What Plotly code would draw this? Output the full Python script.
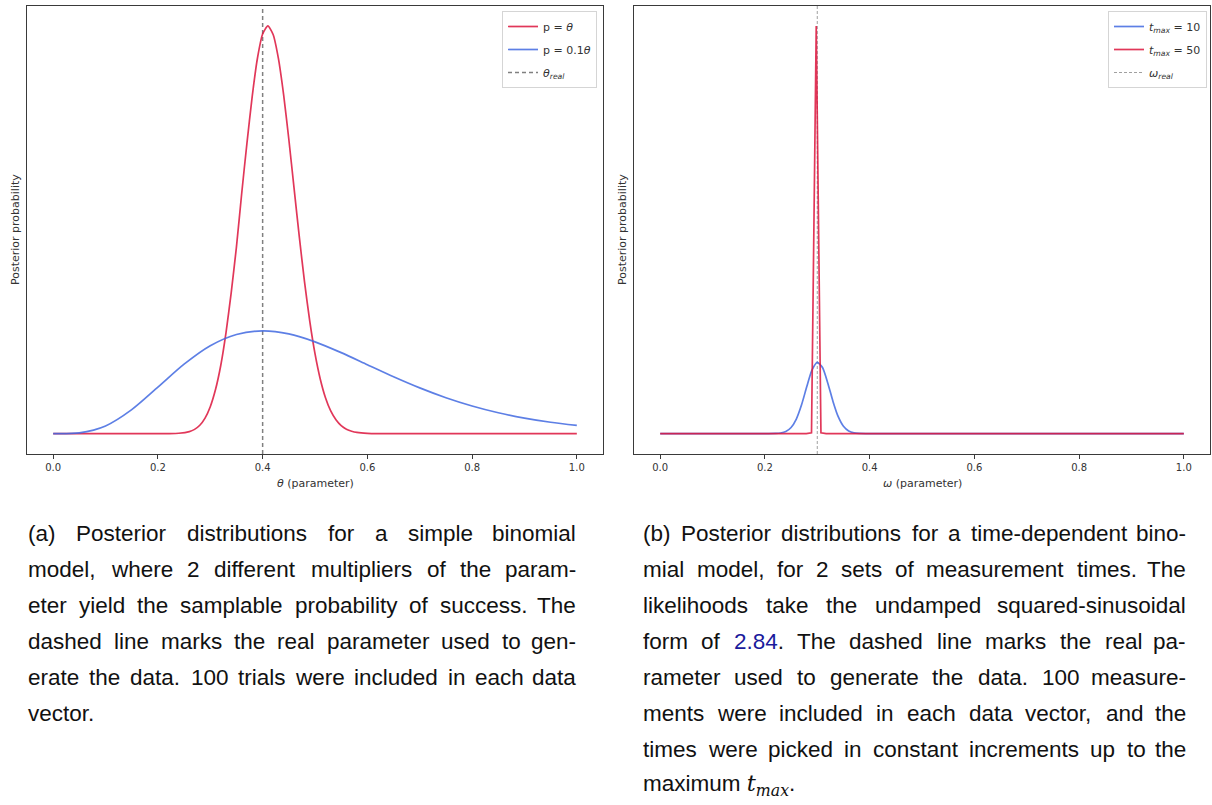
import re
import plotly.graph_objects as go

# ---------------- panel (a): simple binomial model ----------------
theta_real = 0.4
theta_red = [0.0, 0.05, 0.10, 0.15, 0.20, 0.22, 0.24, 0.26, 0.27, 0.28, 0.29,
             0.30, 0.31, 0.32, 0.33, 0.34, 0.35, 0.36, 0.37, 0.38, 0.39,
             0.40, 0.41, 0.42, 0.43, 0.44, 0.45, 0.46, 0.47, 0.48, 0.49,
             0.50, 0.51, 0.52, 0.53, 0.54, 0.55, 0.56, 0.57, 0.58,
             0.60, 0.62, 0.70, 0.80, 0.90, 1.0]
post_red_a = [0, 0, 0, 0, 0.00001, 0.0001, 0.0009, 0.0049, 0.0104, 0.0205, 0.038,
              0.066, 0.108, 0.167, 0.247, 0.346, 0.458, 0.589, 0.712, 0.826, 0.920,
              0.980, 1.0, 0.979, 0.921, 0.832, 0.722, 0.602, 0.483, 0.372, 0.276,
              0.196, 0.134, 0.088, 0.0555, 0.034, 0.0195, 0.0108, 0.0058, 0.0029,
              0.0007, 0.0001, 0, 0, 0, 0]

theta_blue = [0.0, 0.05, 0.10, 0.15, 0.20, 0.25, 0.30, 0.35, 0.40, 0.45, 0.50,
              0.55, 0.60, 0.65, 0.70, 0.75, 0.80, 0.85, 0.90, 0.95, 1.0]
post_blue_a = [0, 0.0019, 0.0189, 0.0588, 0.1140, 0.1703, 0.2156, 0.2432, 0.252,
               0.2445, 0.2251, 0.1986, 0.1691, 0.1395, 0.1122, 0.0881, 0.0678,
               0.0512, 0.0380, 0.0278, 0.0200]

# ---------------- panel (b): time-dependent binomial model ----------------
omega_real = 0.3
omega_blue = [0.0, 0.20, 0.22, 0.23, 0.24, 0.25, 0.26, 0.27, 0.28, 0.29, 0.30,
              0.31, 0.32, 0.33, 0.34, 0.35, 0.36, 0.37, 0.38, 0.40, 1.0]
post_blue_b = [0, 0, 0.0004, 0.0015, 0.0052, 0.0150, 0.0357, 0.0706, 0.1153,
               0.1561, 0.1748, 0.1621, 0.1244, 0.0790, 0.0415, 0.0181, 0.0065,
               0.0019, 0.0005, 0, 0]
omega_red = [0.0, 0.279, 0.289, 0.298, 0.307, 0.317, 1.0]
post_red_b = [0, 0, 0.002, 1.0, 0.002, 0, 0]

x_ticks = [0.0, 0.2, 0.4, 0.6, 0.8, 1.0]
x_tick_labels = ["0.0", "0.2", "0.4", "0.6", "0.8", "1.0"]

caption_a = [
    "(a) Posterior distributions for a simple binomial",
    "model, where 2 different multipliers of the param-",
    "eter yield the samplable probability of success. The",
    "dashed line marks the real parameter used to gen-",
    "erate the data. 100 trials were included in each data",
    "vector.",
]
caption_b = [
    "(b) Posterior distributions for a time-dependent bino-",
    "mial model, for 2 sets of measurement times. The",
    "likelihoods take the undamped squared-sinusoidal",
    "form of <span style='color:#1a1a9c'>2.84</span>. The dashed line marks the real pa-",
    "rameter used to generate the data. 100 measure-",
    "ments were included in each data vector, and the",
    "times were picked in constant increments up to the",
    "maximum <span style='font-family:\"DejaVu Serif\"'><i>t</i><sub><i>max</i></sub></span>.",
]

RED = "rgba(220,20,60,0.85)"
BLUE = "rgba(65,105,225,0.85)"
W, H = 1212, 805

fig = go.Figure()

# panel (a)
fig.add_trace(go.Scatter(x=theta_red, y=post_red_a, mode="lines", name="p = <i>θ</i>",
                         line=dict(color=RED, width=1.7, shape="spline", smoothing=0.6),
                         xaxis="x", yaxis="y", legend="legend", legendgroup="a1"))
fig.add_trace(go.Scatter(x=theta_blue, y=post_blue_a, mode="lines", name="p = 0.1<i>θ</i>",
                         line=dict(color=BLUE, width=1.7, shape="spline", smoothing=0.8),
                         xaxis="x", yaxis="y", legend="legend", legendgroup="a2"))
fig.add_trace(go.Scatter(x=[None], y=[None], mode="lines",
                         name="<i>θ</i><sub><i>real</i></sub>",
                         line=dict(color="#808080", width=1.5, dash="4px,3px"),
                         xaxis="x", yaxis="y", legend="legend", legendgroup="a3"))

# panel (b)
fig.add_trace(go.Scatter(x=omega_blue, y=post_blue_b, mode="lines",
                         name="<i>t</i><sub><i>max</i></sub> = 10",
                         line=dict(color=BLUE, width=1.7, shape="spline", smoothing=0.6),
                         xaxis="x2", yaxis="y2", legend="legend2", legendgroup="b1"))
fig.add_trace(go.Scatter(x=omega_red, y=post_red_b, mode="lines",
                         name="<i>t</i><sub><i>max</i></sub> = 50",
                         line=dict(color=RED, width=1.7),
                         xaxis="x2", yaxis="y2", legend="legend2", legendgroup="b2"))
fig.add_trace(go.Scatter(x=[None], y=[None], mode="lines",
                         name="<i>ω</i><sub><i>real</i></sub>",
                         line=dict(color="#a0a0a0", width=1, dash="3px,2px"),
                         xaxis="x2", yaxis="y2", legend="legend2", legendgroup="b3"))

# vertical markers for the true parameter values
fig.add_shape(type="line", xref="x", yref="y domain", x0=theta_real, x1=theta_real,
              y0=0, y1=1, line=dict(color="#808080", width=1.5, dash="4px,3px"), layer="below")
fig.add_shape(type="line", xref="x2", yref="y2 domain", x0=omega_real, x1=omega_real,
              y0=0, y1=1, line=dict(color="#a0a0a0", width=1, dash="3px,2px"), layer="below")

y_dom = [1 - 454 / H, 1 - 5.5 / H]
axis_common = dict(range=[-0.05, 1.05], showgrid=False, zeroline=False, showline=True,
                   mirror=True, linecolor="#3a3a3a", linewidth=1)
xcommon = dict(axis_common, tickvals=x_ticks, ticktext=x_tick_labels, ticks="outside",
               ticklen=4, tickwidth=1, tickcolor="#3a3a3a",
               tickfont=dict(family="DejaVu Sans", size=10, color="#333"))
ycommon = dict(axis_common, showticklabels=False, ticks="")

fig.update_layout(
    width=W, height=H, margin=dict(l=0, r=0, t=0, b=0),
    paper_bgcolor="white", plot_bgcolor="white",
    xaxis=dict(xcommon, domain=[27 / W, 603 / W], anchor="y"),
    yaxis=dict(ycommon, domain=y_dom, anchor="x"),
    xaxis2=dict(xcommon, domain=[634 / W, 1210 / W], anchor="y2"),
    yaxis2=dict(ycommon, domain=y_dom, anchor="x2"),
    legend=dict(x=597 / W, y=1 - 11 / H, xanchor="right", yanchor="top",
                bgcolor="white", bordercolor="#d5d5d5", borderwidth=1,
                font=dict(family="DejaVu Sans", size=11, color="#333"),
                tracegroupgap=4),
    legend2=dict(x=1207 / W, y=1 - 11 / H, xanchor="right", yanchor="top",
                 bgcolor="white", bordercolor="#d5d5d5", borderwidth=1,
                 font=dict(family="DejaVu Sans", size=11, color="#333"),
                 tracegroupgap=4),
    showlegend=True,
)

# axis titles
ann = []
title_font = dict(family="DejaVu Sans", size=11, color="#333")
for xc, label in ((315, "<i>θ</i> (parameter)"), (922, "<i>ω</i> (parameter)")):
    ann.append(dict(text=label, x=xc / W, y=1 - 483 / H, xref="paper", yref="paper",
                    xanchor="center", yanchor="middle", showarrow=False, font=title_font))
for xc in (15, 622):
    ann.append(dict(text="Posterior probability", x=xc / W, y=1 - 230 / H, xref="paper",
                    yref="paper", xanchor="center", yanchor="middle", textangle=-90,
                    showarrow=False, font=title_font))

# justified caption paragraphs (word positions from Arial-compatible advance widths)
ADV = {" ": 278, "(": 333, ")": 333, ",": 278, "-": 333, ".": 278, ":": 278}
ADV.update({d: 556 for d in "0123456789"})
ADV.update(dict(zip("abcdefghijklmnopqrstuvwxyz",
                    [556, 556, 500, 556, 556, 278, 556, 556, 222, 222, 500, 222, 833,
                     556, 556, 556, 556, 333, 500, 278, 556, 500, 722, 500, 500, 500])))
ADV.update(dict(zip("ABCDEFGHIJKLMNOPQRSTUVWXYZ",
                    [667, 667, 722, 722, 667, 611, 778, 722, 278, 500, 667, 556, 833,
                     722, 778, 667, 778, 722, 667, 611, 722, 667, 944, 667, 667, 611])))
CAP_FONT = "Liberation Sans, Arial, sans-serif"
CAP_SIZE = 22.5


def word_width(word):
    plain = re.sub(r"<[^>]+>", "", word)
    return sum(ADV.get(c, 556) for c in plain) * CAP_SIZE / 1000


def split_words(line):
    # split on spaces that are not inside html tags
    parts, buf, depth = [], "", 0
    for c in line:
        if c == "<":
            depth += 1
        elif c == ">":
            depth -= 1
        if c == " " and depth == 0:
            if buf:
                parts.append(buf)
            buf = ""
        else:
            buf += c
    if buf:
        parts.append(buf)
    return parts


def caption(lines, left, right, y0, step):
    cap_font = dict(family=CAP_FONT, size=CAP_SIZE, color="#111")
    for i, line in enumerate(lines):
        yc = 1 - (y0 + i * step) / H
        last = i == len(lines) - 1
        words = split_words(line)
        if last or len(words) == 1:
            ann.append(dict(text=line, x=left / W, y=yc, xref="paper", yref="paper",
                            xanchor="left", yanchor="middle", showarrow=False, borderpad=0,
                            font=cap_font))
            continue
        widths = [word_width(w) for w in words]
        gap = (right - left - sum(widths)) / (len(words) - 1)
        x = left
        for j, (w, wd) in enumerate(zip(words, widths)):
            if j == len(words) - 1:
                ann.append(dict(text=w, x=right / W, y=yc, xref="paper", yref="paper",
                                xanchor="right", yanchor="middle", showarrow=False,
                                borderpad=0, font=cap_font))
            else:
                ann.append(dict(text=w, x=x / W, y=yc, xref="paper", yref="paper",
                                xanchor="left", yanchor="middle", showarrow=False,
                                borderpad=0, font=cap_font))
            x += wd + gap


caption(caption_a, 27, 577, 533, 36)
caption(caption_b, 642, 1187, 533, 36)

fig.update_layout(annotations=ann)
fig.write_html("out.html")
